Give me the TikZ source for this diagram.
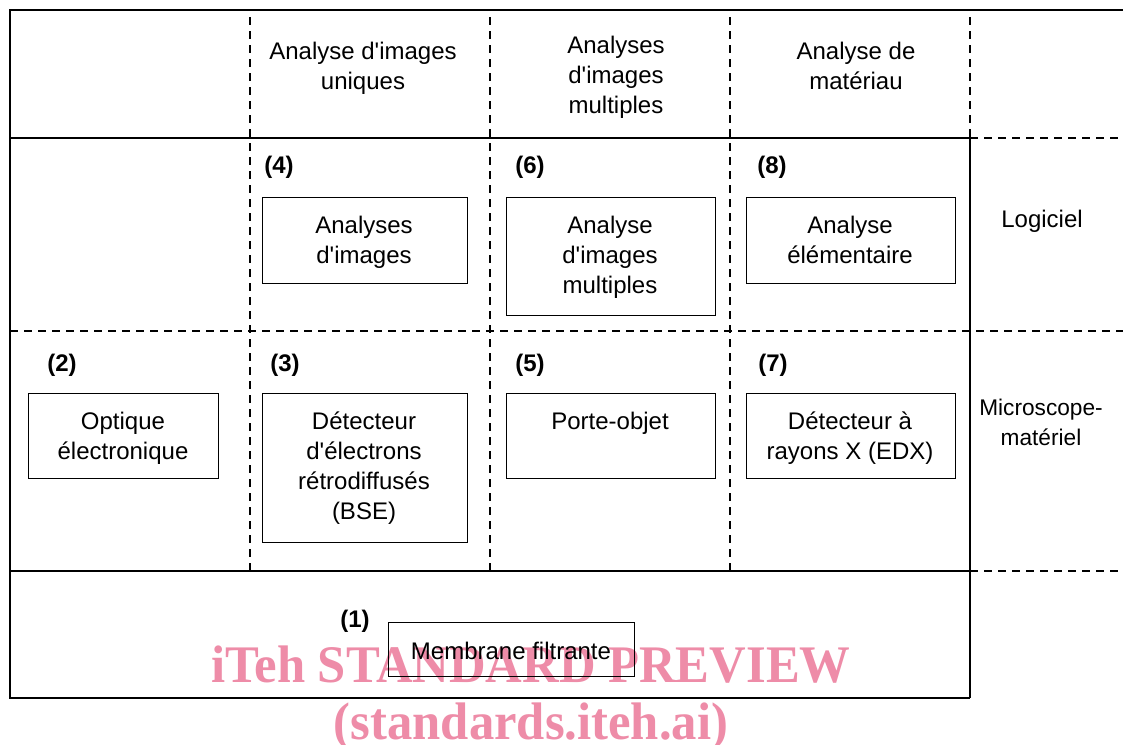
\documentclass[tikz,border=0pt]{standalone}
\usepackage{fontspec}
\setmainfont{Liberation Sans}
\newfontfamily\wmfont{Liberation Serif}
\definecolor{wmpink}{RGB}{238,140,168}
\newcommand\ap{\textquotesingle}
\begin{document}
\begin{tikzpicture}[x=0.75pt,y=-0.75pt]
\tikzset{
  box/.style={draw, line width=1.1pt, anchor=north west, inner sep=0pt},
  lbl/.style={font=\fontsize{18}{22.5}\selectfont, align=center, anchor=north, inner sep=0pt},
  num/.style={font=\fontsize{18}{22.5}\selectfont\bfseries, anchor=base, inner sep=0pt},
  solidline/.style={line width=1.5pt},
  dashline/.style={line width=1.1pt, dash pattern=on 6pt off 4.5pt},
  wm/.style={font=\wmfont\fontsize{39.6}{40}\selectfont\bfseries, text=wmpink, anchor=base, inner sep=0pt, xscale=0.96}
}
\useasboundingbox (0,0) rectangle (1123,744);
\fill[white] (0,0) rectangle (1123,744);

% watermark (behind the drawing)
\node[wm] (wm1) at (531,682) {iTeh STANDARD PREVIEW};
\node[wm] (wm2) at (531,739) {(standards.iteh.ai)};

% grid coordinates
\coordinate (TL) at (10,10);
\coordinate (TR) at (1123,10);
\coordinate (BL) at (10,698);
\coordinate (BR) at (970,698);

% solid frame
\draw[solidline] (TR) -- (TL) -- (BL) -- (BR);
\draw[solidline] (970,138) -- (BR);
\draw[solidline] (10,138) -- (970,138);
\draw[solidline] (10,571) -- (970,571);

% dashed lines
\draw[dashline] (970,17) -- (970,138);
\draw[dashline] (970,138) -- (1123,138);
\draw[dashline] (10,331) -- (1123,331);
\draw[dashline] (970,571) -- (1123,571);
\draw[dashline] (250,17) -- (250,571);
\draw[dashline] (490,17) -- (490,571);
\draw[dashline] (730,17) -- (730,571);

% header texts
\node[lbl] (h1) at (363,38) {\strut Analyse d\ap images\\uniques};
\node[lbl] (h2) at (616,32) {\strut Analyses\\d\ap images\\multiples};
\node[lbl] (h3) at (856,38) {\strut Analyse de\\matériau};

% row labels
\node[lbl] (logiciel) at (1042,206) {\strut Logiciel};
\node[lbl, font=\fontsize{17}{22.5}\selectfont] (micro) at (1041,394) {\strut Microscope-\\matériel};

% boxes
\node[box, minimum width={205*0.75pt}, minimum height={86*0.75pt}] (b4) at (262,197) {};
\node[box, minimum width={209*0.75pt}, minimum height={118*0.75pt}] (b6) at (506,197) {};
\node[box, minimum width={209*0.75pt}, minimum height={86*0.75pt}] (b8) at (746,197) {};
\node[box, minimum width={190*0.75pt}, minimum height={85*0.75pt}] (b2) at (28,393) {};
\node[box, minimum width={205*0.75pt}, minimum height={149*0.75pt}] (b3) at (262,393) {};
\node[box, minimum width={209*0.75pt}, minimum height={85*0.75pt}] (b5) at (506,393) {};
\node[box, minimum width={209*0.75pt}, minimum height={85*0.75pt}] (b7) at (746,393) {};
\node[box, minimum width={246*0.75pt}, minimum height={54*0.75pt}] (b1) at (388,622) {};

% box texts
\node[lbl] (t4) at (364,212) {\strut Analyses\\d\ap images};
\node[lbl] (t6) at (610,212) {\strut Analyse\\d\ap images\\multiples};
\node[lbl] (t8) at (850,212) {\strut Analyse\\élémentaire};
\node[lbl] (t2) at (123,408) {\strut Optique\\électronique};
\node[lbl] (t3) at (364,408) {\strut Détecteur\\d\ap électrons\\rétrodiffusés\\(BSE)};
\node[lbl] (t5) at (610,408) {\strut Porte-objet};
\node[lbl] (t7) at (850,408) {\strut Détecteur à\\rayons X (EDX)};
\node[lbl] (t1) at (511,638) {\strut Membrane filtrante};

% numbers
\node[num] (n4) at (279,173) {(4)};
\node[num] (n6) at (530,173) {(6)};
\node[num] (n8) at (772,173) {(8)};
\node[num] (n2) at (62,371) {(2)};
\node[num] (n3) at (285,371) {(3)};
\node[num] (n5) at (530,371) {(5)};
\node[num] (n7) at (773,371) {(7)};
\node[num] (n1) at (355,627) {(1)};
\end{tikzpicture}
\end{document}
